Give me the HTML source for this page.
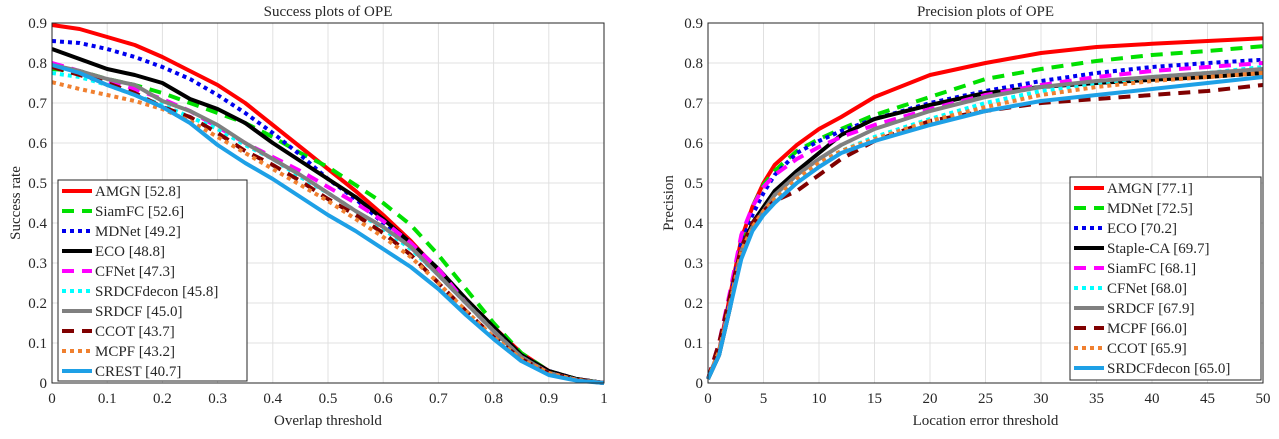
<!DOCTYPE html>
<html><head><meta charset="utf-8"><style>
body{margin:0;background:#fff;width:1279px;height:434px;overflow:hidden}
svg text{font-family:"Liberation Serif",serif;fill:#262626}
</style></head><body>
<svg id="c" width="1279" height="434"></svg>
<script>
const sx=[0,0.05,0.1,0.15,0.2,0.25,0.3,0.35,0.4,0.45,0.5,0.55,0.6,0.65,0.7,0.75,0.8,0.85,0.9,0.95,1];
const sNames=["AMGN [52.8]","SiamFC [52.6]","MDNet [49.2]","ECO [48.8]","CFNet [47.3]","SRDCFdecon [45.8]","SRDCF [45.0]","CCOT [43.7]","MCPF [43.2]","CREST [40.7]"];
const sAMGN=[0.895,0.885,0.865,0.845,0.815,0.78,0.745,0.70,0.645,0.59,0.535,0.48,0.42,0.355,0.28,0.21,0.14,0.075,0.03,0.01,0];
const sSiamFC=[0.785,0.78,0.76,0.745,0.725,0.70,0.675,0.65,0.615,0.575,0.54,0.495,0.45,0.395,0.32,0.235,0.15,0.075,0.03,0.01,0];
const sMDNet=[0.855,0.85,0.835,0.815,0.79,0.76,0.72,0.675,0.625,0.57,0.51,0.46,0.4,0.34,0.27,0.2,0.135,0.07,0.03,0.01,0];
const sECO=[0.835,0.81,0.785,0.77,0.75,0.71,0.685,0.65,0.6,0.555,0.51,0.465,0.41,0.35,0.285,0.21,0.14,0.07,0.03,0.01,0];
const sCFNet=[0.8,0.78,0.755,0.735,0.71,0.68,0.64,0.6,0.565,0.53,0.49,0.45,0.405,0.35,0.285,0.2,0.13,0.065,0.025,0.008,0];
const sSRDCFdecon=[0.775,0.765,0.745,0.72,0.695,0.665,0.635,0.595,0.56,0.515,0.475,0.43,0.385,0.335,0.27,0.2,0.13,0.065,0.025,0.008,0];
const sSRDCF=[0.795,0.78,0.76,0.745,0.705,0.68,0.645,0.6,0.56,0.52,0.475,0.43,0.39,0.34,0.27,0.2,0.13,0.065,0.025,0.008,0];
const sCCOT=[0.79,0.77,0.75,0.725,0.69,0.665,0.625,0.58,0.545,0.505,0.46,0.42,0.375,0.32,0.25,0.18,0.115,0.06,0.025,0.008,0];
const sMCPF=[0.752,0.735,0.72,0.705,0.685,0.655,0.615,0.575,0.535,0.495,0.455,0.41,0.365,0.315,0.25,0.18,0.115,0.06,0.025,0.008,0];
const sCREST=[0.795,0.775,0.745,0.72,0.69,0.65,0.595,0.55,0.51,0.465,0.42,0.38,0.335,0.29,0.235,0.17,0.11,0.055,0.02,0.006,0];
const px=[0,1,2,3,4,5,6,8,10,12,15,20,25,30,35,40,45,50];
const pNames=["AMGN [77.1]","MDNet [72.5]","ECO [70.2]","Staple-CA [69.7]","SiamFC [68.1]","CFNet [68.0]","SRDCF [67.9]","MCPF [66.0]","CCOT [65.9]","SRDCFdecon [65.0]"];
const pAMGN=[0.01,0.08,0.22,0.36,0.44,0.5,0.545,0.595,0.635,0.665,0.715,0.77,0.8,0.825,0.84,0.848,0.855,0.862];
const pMDNet=[0.01,0.08,0.22,0.36,0.44,0.495,0.53,0.58,0.61,0.635,0.67,0.715,0.76,0.785,0.805,0.82,0.83,0.842];
const pECO=[0.01,0.08,0.21,0.35,0.42,0.475,0.52,0.575,0.605,0.63,0.66,0.7,0.73,0.755,0.775,0.79,0.8,0.808];
const pStaple=[0.01,0.07,0.19,0.33,0.4,0.44,0.48,0.53,0.575,0.62,0.66,0.695,0.725,0.74,0.75,0.758,0.765,0.775];
const pSiamFC=[0.01,0.1,0.23,0.37,0.44,0.49,0.52,0.56,0.59,0.615,0.645,0.685,0.72,0.745,0.765,0.78,0.79,0.8];
const pCFNet=[0.01,0.08,0.2,0.33,0.39,0.43,0.46,0.51,0.55,0.58,0.615,0.66,0.7,0.73,0.75,0.765,0.775,0.79];
const pSRDCF=[0.01,0.08,0.2,0.33,0.39,0.43,0.47,0.52,0.56,0.595,0.635,0.68,0.715,0.74,0.755,0.765,0.775,0.785];
const pMCPF=[0.01,0.1,0.22,0.34,0.4,0.43,0.455,0.48,0.52,0.56,0.605,0.655,0.68,0.7,0.71,0.72,0.73,0.745];
const pCCOT=[0.01,0.08,0.2,0.33,0.39,0.43,0.46,0.51,0.55,0.58,0.61,0.655,0.69,0.72,0.74,0.755,0.765,0.775];
const pSRDCFdecon=[0.01,0.07,0.19,0.31,0.38,0.42,0.45,0.5,0.54,0.575,0.605,0.645,0.68,0.705,0.72,0.735,0.75,0.765];
const yTicks=[0,0.1,0.2,0.3,0.4,0.5,0.6,0.7,0.8,0.9];
const sxTicks=[0,0.1,0.2,0.3,0.4,0.5,0.6,0.7,0.8,0.9,1];
const pxTicks=[0,5,10,15,20,25,30,35,40,45,50];

const NS="http://www.w3.org/2000/svg";
const svg=document.getElementById('c');
function mk(t,a,p){const e=document.createElementNS(NS,t);for(const k in a)e.setAttribute(k,a[k]);(p||svg).appendChild(e);return e;}
const ST={
 red:{c:"#ff0000",d:""},green:{c:"#00e000",d:"12 8"},blue:{c:"#0000ee",d:"4 4"},black:{c:"#000",d:""},
 mag:{c:"#ff00ff",d:"12 8"},cyan:{c:"#00ffff",d:"4 4"},grey:{c:"#808080",d:""},dred:{c:"#800000",d:"12 8"},
 orange:{c:"#f08030",d:"4 4"},lblue:{c:"#1ea0e6",d:""}};
function plot(o){
 const X0=o.x0,X1=o.x1,Y0=23,Y1=383;
 const fx=v=>X0+(v-o.xmin)/(o.xmax-o.xmin)*(X1-X0);
 const fy=v=>Y1-v/0.9*(Y1-Y0);
 const g=mk('g',{});
 mk('rect',{x:X0,y:Y0,width:X1-X0,height:Y1-Y0,fill:'#fff'},g);
 o.xt.forEach(t=>{mk('line',{x1:fx(t),x2:fx(t),y1:Y0,y2:Y1,stroke:'#e0e0e0'},g);
  const tx=mk('text',{x:fx(t),y:Y1+20,'text-anchor':'middle','font-size':15},g);tx.textContent=t;
  });
 yTicks.forEach(t=>{mk('line',{x1:X0,x2:X1,y1:fy(t),y2:fy(t),stroke:'#e0e0e0'},g);
  const tx=mk('text',{x:X0-5,y:fy(t)+5,'text-anchor':'end','font-size':15},g);tx.textContent=t;
  });
 o.series.forEach((s,i)=>{const st=ST[o.styles[i]];
  const p=mk('path',{d:o.xs.map((v,j)=>(j?'L':'M')+fx(v).toFixed(1)+','+fy(s[j]).toFixed(1)).join(''),fill:'none',stroke:st.c,'stroke-width':4,'stroke-dasharray':st.d,'stroke-linejoin':'round'},g);
  });
 mk('rect',{x:X0,y:Y0,width:X1-X0,height:Y1-Y0,fill:'none',stroke:'#262626','stroke-width':1},g);
 const ti=mk('text',{x:(X0+X1)/2,y:16,'text-anchor':'middle','font-size':15},g);ti.textContent=o.title;
 
 const xl=mk('text',{x:(X0+X1)/2,y:425,'text-anchor':'middle','font-size':15},g);xl.textContent=o.xlabel;
 
 const yl=mk('text',{x:0,y:0,'text-anchor':'middle','font-size':15,transform:`translate(${o.ylx},${(Y0+Y1)/2}) rotate(-90)`},g);yl.textContent=o.ylabel;
 
 const L=o.leg;
 const lg=mk('g',{},g);
 mk('rect',{x:L.x,y:L.y,width:L.w,height:L.h,fill:'#fff',stroke:'#262626'},lg);
 o.names.forEach((n,i)=>{const st=ST[o.styles[i]];const yy=L.y+11+i*20;
  const e=mk('g',{},lg);
  mk('line',{x1:L.x+4,x2:L.x+34,y1:yy,y2:yy,stroke:st.c,'stroke-width':4,'stroke-dasharray':st.d},e);
  const t=mk('text',{x:L.x+37,y:yy+5,'font-size':15},e);t.textContent=n;});
}
plot({name:'success-plot',x0:52,x1:604,xmin:0,xmax:1,xs:sx,xt:sxTicks,title:'Success plots of OPE',xlabel:'Overlap threshold',ylabel:'Success rate',ylx:20,
 series:[sAMGN,sSiamFC,sMDNet,sECO,sCFNet,sSRDCFdecon,sSRDCF,sCCOT,sMCPF,sCREST],names:sNames,
 styles:['red','green','blue','black','mag','cyan','grey','dred','orange','lblue'],leg:{x:58,y:180,w:189,h:201}});
plot({name:'precision-plot',x0:708,x1:1263,xmin:0,xmax:50,xs:px,xt:pxTicks,title:'Precision plots of OPE',xlabel:'Location error threshold',ylabel:'Precision',ylx:673,
 series:[pAMGN,pMDNet,pECO,pStaple,pSiamFC,pCFNet,pSRDCF,pMCPF,pCCOT,pSRDCFdecon],names:pNames,
 styles:['red','green','blue','black','mag','cyan','grey','dred','orange','lblue'],leg:{x:1070,y:177,w:191,h:203}});
</script>
</body></html>
